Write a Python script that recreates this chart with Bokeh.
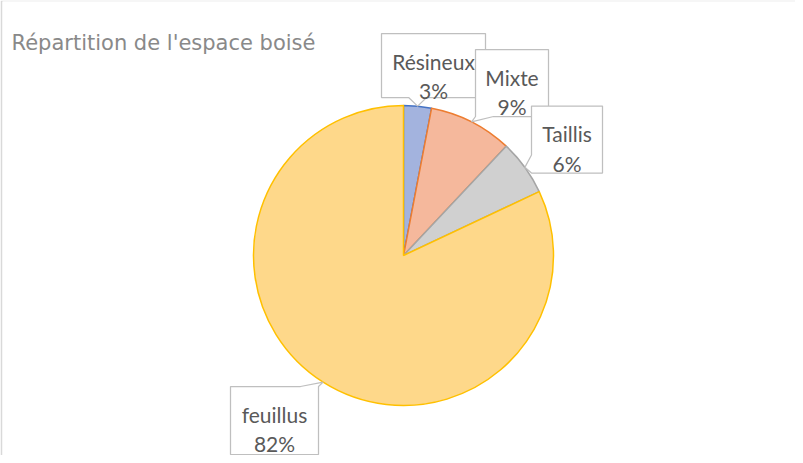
import math
from bokeh.plotting import figure
from bokeh.models import Range1d
from bokeh.embed import file_html
from bokeh.resources import INLINE
from bokeh.core.properties import value

# ---- data ----
title_text = "Répartition de l'espace boisé"
categories = ["Résineux", "Mixte", "Taillis", "feuillus"]
values = [3, 9, 6, 82]

# ---- styles ----
fill_colors = ["#a3b3de", "#f5b89c", "#d0d0d0", "#fed88a"]
line_colors = ["#4472c4", "#ed7d31", "#a5a5a5", "#ffc000"]
LABEL_FONT = "Lato"
LABEL_SIZE = "21px"
TEXT_COLOR = "#595959"

# layout: pixels per data unit (pie radius = 1 data unit)
PX = 150.0
FRAME_W, FRAME_H = 793, 454
CENTER_FX, CENTER_FY = 401, 254   # pie centre inside the frame (px from top-left)

# callout boxes: (dx, dy, w, h) in px relative to pie centre (dy up)
label_boxes = [(30, 190, 104, 64), (108.5, 172.5, 73, 67), (163.5, 116, 71, 67), (-129, -165, 88, 68)]

p = figure(width=795, height=455, output_backend="svg", toolbar_location=None,
           x_range=Range1d(-CENTER_FX / PX, (FRAME_W - CENTER_FX) / PX),
           y_range=Range1d(-(FRAME_H - CENTER_FY) / PX, CENTER_FY / PX),
           min_border_left=2, min_border_top=1, min_border_right=0, min_border_bottom=0)
p.border_fill_color = "#d9d9d9"
p.background_fill_color = "white"
p.outline_line_color = None
p.axis.visible = False
p.grid.visible = False

total = float(sum(values))
starts, ends, mids = [], [], []
cum = 0.0
for v in values:
    f0 = cum / total
    cum += v
    f1 = cum / total
    starts.append(math.pi / 2 - 2 * math.pi * f0)
    ends.append(math.pi / 2 - 2 * math.pi * f1)
    mids.append(math.pi / 2 - 2 * math.pi * (f0 + f1) / 2)

p.wedge(x=[0] * len(values), y=[0] * len(values), radius=1.0,
        start_angle=starts, end_angle=ends, direction="clock",
        fill_color=fill_colors, line_color=line_colors, line_width=1.5)

# title
p.text(x=[(19 - 10 - CENTER_FX) / PX], y=[(CENTER_FY - (50 - 9)) / PX], text=[title_text],
       text_font=value("DejaVu Sans"), text_font_size="21px", text_color="#898989",
       text_align="left", text_baseline="alphabetic")

HW = 9 / PX
for i, cat in enumerate(categories):
    dx, dy, w, h = label_boxes[i]
    cx, cy, bw, bh = dx / PX, dy / PX, w / PX, h / PX
    l, r, t, b = cx - bw / 2, cx + bw / 2, cy + bh / 2, cy - bh / 2
    ax, ay = math.cos(mids[i]), math.sin(mids[i])
    if ay < b:
        bc = min(max(ax, l + HW), r - HW)
        pts = [(l, t), (r, t), (r, b), (bc + HW, b), (ax, ay), (bc - HW, b), (l, b)]
    elif ay > t:
        bc = min(max(ax, l + HW), r - HW)
        pts = [(l, t), (bc - HW, t), (ax, ay), (bc + HW, t), (r, t), (r, b), (l, b)]
    elif ax < l:
        bc = min(max(ay, b + HW), t - HW)
        pts = [(l, t), (r, t), (r, b), (l, b), (l, bc - HW), (ax, ay), (l, bc + HW)]
    else:
        bc = min(max(ay, b + HW), t - HW)
        pts = [(l, t), (r, t), (r, bc + HW), (ax, ay), (r, bc - HW), (r, b), (l, b)]
    p.patch(x=[q[0] for q in pts], y=[q[1] for q in pts], fill_color="white",
            line_color="#bfbfbf", line_width=1.25)
    pct = "%d%%" % round(values[i] / total * 100)
    y1 = t - 27.5 / PX
    y2 = y1 - 29.5 / PX
    p.text(x=[cx, cx], y=[y1, y2], text=[cat, pct], text_font=value(LABEL_FONT),
           text_font_size=LABEL_SIZE, text_color=TEXT_COLOR,
           text_align="center", text_baseline="alphabetic")

open("out.html", "w").write(file_html(p, INLINE))
